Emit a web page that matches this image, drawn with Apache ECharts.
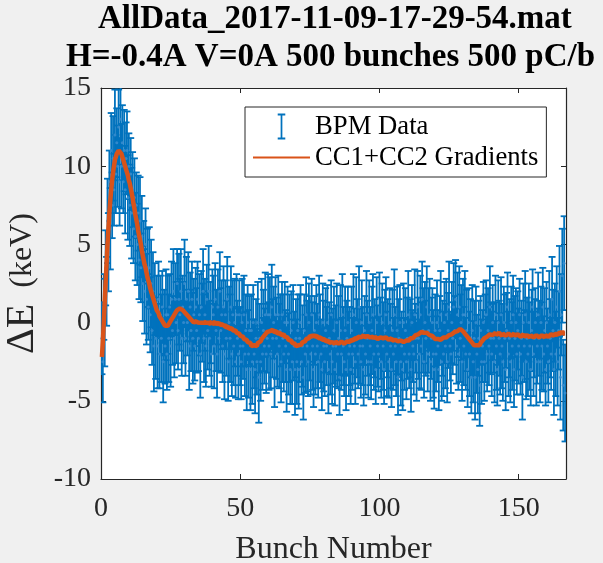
<!DOCTYPE html>
<html>
<head>
<meta charset="utf-8">
<script src="https://cdn.jsdelivr.net/npm/echarts@6/dist/echarts.min.js"></script>
<style>
html,body{margin:0;padding:0;background:#f0f0f0;}
#chart{width:603px;height:563px;}
</style>
</head>
<body>
<div id="chart"></div>
<script>
// ---- Data ----
const titleLines = ['AllData_2017-11-09-17-29-54.mat', 'H=-0.4A V=0A 500 bunches 500 pC/b'];
const xLabel = 'Bunch Number';
const yLabelDelta = '\u0394E';
const yLabelUnit = '(keV)';
const seriesNames = ['BPM Data', 'CC1+CC2 Gradients'];
const xTicks = [0, 50, 100, 150];
const yTicks = [-10, -5, 0, 5, 10, 15];
const samplesPerBunch = 3; // 500 samples spread over ~167 bunch units

// measured energy deviation (keV)
const bpmValues = [
  -1.0, -2.5, 1.0, 0.0, 3.5, 2.0, 6.5, 4.5, 9.0, 6.0,
  11.0, 7.5, 10.5, 8.5, 12.0, 9.5, 11.5, 10.0, 12.5, 9.0,
  13.0, 10.0, 11.5, 9.0, 11.0, 8.5, 10.5, 11.0, 8.0, 10.0,
  7.5, 9.5, 7.0, 8.5, 6.0, 8.0, 5.5, 7.5, 5.0, 7.0,
  4.0, 6.5, 3.5, 5.5, 2.5, 4.5, 2.0, 5.0, 1.5, 3.5,
  1.0, 3.5, 0.5, 2.5, -0.5, 2.0, -1.5, 1.5, -1.0, 1.0,
  -1.5, 1.5, -2.0, 0.5, -1.0, 1.0, -2.5, 0.0, -1.5, 0.5,
  -2.0, 0.5, -1.0, 1.0, -1.5, 1.5, -0.5, 2.0, -1.0, 1.5,
  0.0, 2.5, -0.5, 1.5, 0.5, 2.0, -1.0, 1.0, 0.0, 2.5,
  -1.0, 1.5, 0.0, 2.0, -1.5, 1.0, -0.5, 1.5, -1.0, 0.5,
  -1.5, 1.0, -0.5, 1.5, -1.0, 0.5, -2.0, 1.0, 0.0, 2.0,
  -1.0, 0.5, -1.5, 1.5, -0.5, 2.0, -1.0, 0.0, -2.0, 1.0,
  0.5, -1.5, 1.5, -0.5, -2.0, 1.0, -1.0, 2.0, -0.5, 0.5,
  -1.5, 1.0, -2.0, 0.5, -1.0, 1.5, -2.5, 0.0, -1.0, 1.0,
  -2.0, 0.5, -1.5, 0.0, -2.5, 0.5, -1.0, -2.0, 0.5, -1.5,
  -2.5, 0.0, -1.5, 0.5, -2.0, -0.5, -3.0, 0.0, -2.0, -0.5,
  -3.0, -0.5, -2.5, 0.0, -2.0, -3.0, -1.0, -2.5, 0.0, -3.5,
  -1.0, -2.5, 0.0, -2.0, -0.5, -1.5, 0.5, -2.0, -1.0, 0.5,
  -1.5, 0.5, -2.0, 1.0, -1.0, 0.0, -2.5, 0.5, -1.0, -2.0,
  0.5, -1.5, -0.5, -2.5, 0.5, -1.0, -2.0, 0.0, -1.5, -3.0,
  0.0, -2.0, -1.0, -3.0, -0.5, -2.5, 0.0, -1.5, -3.0, -1.0,
  -2.5, -0.5, -3.0, -1.0, 0.0, -2.5, -1.5, -3.5, -0.5, -2.0,
  0.5, -1.5, -2.5, 0.0, -1.0, -2.0, 0.5, -1.5, -3.0, -0.5,
  -2.0, 0.0, -1.5, -2.5, 0.5, -1.0, -2.0, -3.0, 0.0, -1.5,
  -2.5, -0.5, -1.5, 0.0, -3.0, -1.0, -2.0, 0.5, -2.5, -1.5,
  -0.5, -3.0, -1.5, 0.0, -2.0, -1.0, -3.5, -0.5, -2.0, 0.5,
  -1.5, -2.5, -0.5, -3.0, -1.0, 0.0, -2.0, -1.5, -3.0, -0.5,
  -2.0, 0.5, -1.5, -2.5, 0.0, -1.0, -2.0, 1.0, -1.5, -2.5,
  0.0, -1.5, -3.0, -0.5, -2.0, 0.5, -1.0, -2.5, 0.0, -1.5,
  -2.5, -0.5, 0.5, -2.0, -1.0, -3.0, 0.0, -1.5, -2.0, 0.5,
  -1.0, -2.5, 0.0, -1.5, -3.0, -0.5, 0.5, -2.0, -1.0, -2.5,
  0.0, -1.5, -3.0, -0.5, -2.0, 0.5, -1.5, -2.5, -0.5, -3.5,
  -1.0, 0.0, -2.5, -1.5, -3.0, 0.0, -2.0, -0.5, -2.5, -1.0,
  0.5, -2.0, -1.0, -3.0, 0.0, -1.5, -2.0, 0.5, -1.0, -2.5,
  1.0, -1.0, -2.0, 0.5, -1.5, 1.5, -0.5, -2.5, 0.0, -1.0,
  1.0, -2.0, -0.5, 0.5, -2.5, -1.0, 0.0, -2.0, -3.0, -0.5,
  -2.0, 0.0, -1.5, -3.0, -0.5, 0.5, -2.5, -1.0, -2.0, 0.0,
  -1.5, 0.5, -2.5, -0.5, 1.0, -1.5, -2.0, 0.0, -1.0, 1.0,
  -0.5, 1.5, -1.5, 0.5, -2.0, 1.0, -1.0, 0.0, -2.5, 0.5,
  -1.5, 0.5, -2.0, -0.5, -3.0, 0.0, -2.0, -1.0, -3.5, -0.5,
  -2.5, -1.0, -3.5, 0.0, -2.0, -3.0, -1.0, -4.0, -0.5, -2.5,
  -1.5, 0.0, -2.5, -1.0, 0.5, -2.0, -0.5, -1.5, 1.0, -1.0,
  -2.0, 0.0, -1.0, -2.5, 0.5, -1.5, -3.0, 0.0, -1.0, -2.0,
  0.5, -1.5, -2.5, 0.0, -1.0, -3.0, -0.5, 1.0, -2.0, -1.0,
  -2.5, 0.0, -1.5, 0.5, -3.0, -1.0, 0.0, -2.0, -0.5, -1.5,
  0.5, -2.0, -1.0, -3.5, 0.0, -1.5, 0.5, -2.5, -1.0, -2.0,
  0.0, -1.5, -3.0, -0.5, 1.0, -2.0, -1.0, 0.0, -2.5, -1.5,
  0.5, -1.0, -2.5, 0.0, -1.5, 1.0, -2.0, -0.5, -3.0, 0.0,
  -1.5, -2.5, 0.5, -1.0, -2.0, 1.5, -0.5, -3.0, 0.0, -2.0,
  1.0, -2.5, -0.5, 2.0, -3.5, 0.5, 3.0, -4.0, 3.8, -4.5
];
// error bar half-lengths (keV)
const bpmErrors = [
  2.3, 2.6, 2.1, 2.8, 2.4, 2.2, 2.7, 2.5, 2.0, 2.6,
  2.4, 2.1, 2.7, 2.3, 2.9, 2.5, 2.2, 2.6, 2.4, 2.8,
  2.2, 2.7, 2.4, 2.0, 2.6, 2.8, 2.3, 2.5, 2.7, 2.1,
  2.6, 2.3, 2.9, 2.4, 2.2, 2.5, 2.8, 2.1, 2.6, 2.4,
  2.5, 2.8, 2.2, 2.6, 2.4, 2.0, 2.7, 2.3, 2.9, 2.5,
  2.1, 2.6, 2.4, 2.8, 2.2, 2.5, 2.9, 2.3, 2.6, 2.0,
  2.7, 2.4, 2.2, 2.5, 2.8, 2.3, 2.6, 2.1, 2.4, 2.9,
  2.3, 2.5, 2.8, 2.1, 2.6, 2.4, 2.2, 2.7, 2.5, 2.3,
  2.6, 2.2, 2.5, 2.9, 2.3, 2.7, 2.4, 2.0, 2.6, 2.8,
  2.4, 2.7, 2.1, 2.5, 2.8, 2.2, 2.6, 2.4, 2.9, 2.3,
  2.2, 2.5, 2.7, 2.4, 2.1, 2.6, 2.8, 2.3, 2.5, 2.7,
  2.8, 2.3, 2.6, 2.2, 2.5, 2.9, 2.4, 2.6, 2.1, 2.4,
  2.5, 2.7, 2.3, 2.6, 2.8, 2.4, 2.1, 2.5, 2.7, 2.2,
  2.3, 2.6, 2.9, 2.2, 2.4, 2.7, 2.5, 2.3, 2.8, 2.6,
  2.7, 2.2, 2.5, 2.8, 2.3, 2.6, 2.4, 2.9, 2.2, 2.5,
  2.4, 2.8, 2.1, 2.5, 2.7, 2.3, 2.6, 2.4, 2.8, 2.2,
  2.6, 2.3, 2.7, 2.4, 2.2, 2.8, 2.5, 2.1, 2.6, 2.9,
  2.2, 2.5, 2.8, 2.3, 2.6, 2.4, 2.7, 2.5, 2.2, 2.6,
  2.8, 2.4, 2.2, 2.7, 2.5, 2.3, 2.9, 2.4, 2.6, 2.1,
  2.5, 2.7, 2.3, 2.6, 2.1, 2.8, 2.4, 2.6, 2.3, 2.7,
  2.3, 2.6, 2.8, 2.2, 2.5, 2.7, 2.4, 2.2, 2.9, 2.5,
  2.7, 2.3, 2.5, 2.8, 2.4, 2.1, 2.6, 2.7, 2.3, 2.5,
  2.4, 2.9, 2.2, 2.5, 2.7, 2.6, 2.3, 2.8, 2.4, 2.2,
  2.6, 2.4, 2.7, 2.3, 2.5, 2.8, 2.2, 2.6, 2.5, 2.9,
  2.2, 2.7, 2.5, 2.4, 2.8, 2.3, 2.6, 2.2, 2.7, 2.4,
  2.8, 2.3, 2.6, 2.5, 2.2, 2.7, 2.4, 2.9, 2.3, 2.6,
  2.5, 2.2, 2.8, 2.6, 2.4, 2.3, 2.7, 2.5, 2.2, 2.8,
  2.3, 2.6, 2.4, 2.7, 2.9, 2.5, 2.2, 2.6, 2.4, 2.3,
  2.7, 2.5, 2.3, 2.2, 2.6, 2.8, 2.4, 2.3, 2.7, 2.5,
  2.4, 2.8, 2.6, 2.3, 2.5, 2.2, 2.9, 2.6, 2.4, 2.7,
  2.6, 2.3, 2.5, 2.8, 2.2, 2.6, 2.4, 2.7, 2.5, 2.3,
  2.2, 2.7, 2.4, 2.6, 2.3, 2.9, 2.5, 2.2, 2.8, 2.4,
  2.5, 2.4, 2.8, 2.2, 2.6, 2.5, 2.3, 2.7, 2.4, 2.6,
  2.8, 2.2, 2.5, 2.7, 2.4, 2.3, 2.6, 2.9, 2.2, 2.5,
  2.3, 2.6, 2.2, 2.5, 2.8, 2.4, 2.7, 2.3, 2.6, 2.4,
  2.6, 2.4, 2.7, 2.3, 2.5, 2.6, 2.2, 2.8, 2.5, 2.3,
  2.4, 2.7, 2.3, 2.6, 2.2, 2.8, 2.5, 2.4, 2.7, 2.6,
  2.7, 2.3, 2.6, 2.4, 2.9, 2.2, 2.5, 2.6, 2.3, 2.8,
  2.2, 2.5, 2.4, 2.7, 2.3, 2.6, 2.8, 2.4, 2.5, 2.3,
  2.5, 2.8, 2.3, 2.6, 2.4, 2.2, 2.7, 2.5, 2.3, 2.9,
  2.6, 2.4, 2.7, 2.3, 2.5, 2.8, 2.4, 2.6, 2.2, 2.7,
  2.3, 2.6, 2.5, 2.8, 2.2, 2.4, 2.7, 2.5, 2.6, 2.3,
  2.7, 2.4, 2.2, 2.6, 2.5, 2.8, 2.3, 2.7, 2.4, 2.6,
  2.4, 2.7, 2.5, 2.3, 2.8, 2.6, 2.4, 2.2, 2.7, 2.5,
  2.6, 2.3, 2.8, 2.5, 2.4, 2.7, 2.2, 2.6, 2.5, 2.4,
  2.3, 2.6, 2.4, 2.7, 2.5, 2.3, 2.8, 2.4, 2.6, 2.7,
  2.5, 2.8, 2.3, 2.6, 2.4, 2.7, 2.5, 2.2, 2.8, 2.4,
  2.7, 2.4, 2.6, 2.3, 2.8, 2.5, 2.4, 2.7, 2.3, 2.6,
  2.4, 2.6, 2.8, 2.5, 2.3, 2.7, 2.6, 2.9, 2.5, 2.7,
  2.6, 2.8, 2.5, 2.9, 2.7, 2.6, 3.0, 2.9, 3.0, 3.1
];
// model (CC1+CC2 gradients) prediction (keV)
const modelValues = [
  -2.2, -1.2, 0.0, 1.3, 2.6, 3.8, 5.0, 6.0, 7.0, 7.8,
  8.5, 9.1, 9.6, 10.0, 10.4, 10.6, 10.8, 10.9, 11.0, 11.0,
  10.9, 10.8, 10.6, 10.4, 10.2, 10.0, 9.8, 9.6, 9.4, 9.1,
  8.9, 8.6, 8.3, 8.0, 7.6, 7.3, 6.9, 6.6, 6.3, 5.9,
  5.6, 5.3, 5.0, 4.6, 4.3, 4.0, 3.7, 3.5, 3.2, 2.9,
  2.7, 2.5, 2.2, 2.0, 1.8, 1.6, 1.4, 1.2, 1.0, 0.8,
  0.7, 0.6, 0.4, 0.3, 0.2, 0.1, 0.0, -0.1, -0.2, -0.2,
  -0.25, -0.2, -0.1, 0.0, 0.1, 0.2, 0.3, 0.4, 0.5, 0.6,
  0.7, 0.8, 0.8, 0.9, 0.9, 0.8, 0.9, 0.8, 0.8, 0.7,
  0.6, 0.6, 0.5, 0.4, 0.3, 0.3, 0.2, 0.1, 0.1, 0.0,
  0.1, -0.1, 0.1, -0.05, 0.1, -0.1, 0.05, -0.1, 0.1, -0.05,
  0.0, -0.15, 0.05, -0.1, 0.1, -0.1, 0.0, -0.15, 0.05, -0.1,
  0.0, -0.2, 0.05, -0.1, -0.05, -0.2, 0.0, -0.15, -0.05, -0.2,
  -0.1, -0.25, -0.1, -0.3, -0.2, -0.35, -0.25, -0.4, -0.3, -0.45,
  -0.35, -0.5, -0.45, -0.6, -0.5, -0.65, -0.6, -0.75, -0.7, -0.85,
  -0.8, -0.95, -0.9, -1.05, -1.0, -1.15, -1.1, -1.25, -1.2, -1.35,
  -1.3, -1.5, -1.4, -1.6, -1.45, -1.55, -1.4, -1.5, -1.3, -1.35,
  -1.2, -1.2, -1.05, -1.0, -0.9, -0.85, -0.75, -0.7, -0.6, -0.6,
  -0.5, -0.55, -0.45, -0.55, -0.45, -0.6, -0.5, -0.6, -0.55, -0.7,
  -0.6, -0.75, -0.65, -0.8, -0.7, -0.85, -0.75, -0.9, -0.85, -1.0,
  -0.95, -1.1, -1.05, -1.2, -1.15, -1.3, -1.25, -1.4, -1.35, -1.5,
  -1.4, -1.55, -1.45, -1.5, -1.35, -1.4, -1.25, -1.3, -1.15, -1.2,
  -1.05, -1.1, -0.95, -1.0, -0.85, -0.95, -0.8, -0.9, -0.75, -0.9,
  -0.8, -0.95, -0.85, -1.0, -0.9, -1.05, -0.95, -1.1, -1.0, -1.15,
  -1.05, -1.2, -1.1, -1.25, -1.15, -1.3, -1.2, -1.35, -1.25, -1.3,
  -1.2, -1.35, -1.2, -1.3, -1.2, -1.35, -1.25, -1.35, -1.2, -1.3,
  -1.2, -1.35, -1.25, -1.35, -1.2, -1.3, -1.15, -1.25, -1.1, -1.2,
  -1.05, -1.15, -1.0, -1.1, -0.95, -1.05, -0.9, -1.0, -0.85, -0.95,
  -0.85, -0.95, -0.8, -0.95, -0.85, -1.0, -0.85, -0.95, -0.8, -0.95,
  -0.85, -1.0, -0.9, -1.05, -0.9, -1.0, -0.9, -1.05, -0.95, -1.05,
  -0.95, -1.05, -0.9, -1.0, -0.9, -1.05, -0.95, -1.05, -1.0, -1.1,
  -1.0, -1.1, -1.0, -1.15, -1.05, -1.15, -1.1, -1.2, -1.1, -1.2,
  -1.15, -1.25, -1.15, -1.25, -1.15, -1.25, -1.2, -1.25, -1.15, -1.2,
  -1.1, -1.15, -1.0, -1.05, -0.95, -1.0, -0.9, -0.9, -0.8, -0.8,
  -0.7, -0.75, -0.65, -0.7, -0.6, -0.65, -0.55, -0.65, -0.6, -0.7,
  -0.65, -0.75, -0.7, -0.8, -0.8, -0.9, -0.85, -0.95, -0.95, -1.05,
  -1.0, -1.1, -1.05, -1.15, -1.05, -1.1, -1.0, -1.05, -0.95, -1.0,
  -0.9, -0.95, -0.85, -0.9, -0.8, -0.8, -0.7, -0.75, -0.65, -0.7,
  -0.6, -0.65, -0.55, -0.55, -0.45, -0.5, -0.4, -0.5, -0.45, -0.55,
  -0.55, -0.7, -0.7, -0.85, -0.85, -1.0, -1.0, -1.15, -1.15, -1.3,
  -1.3, -1.45, -1.4, -1.55, -1.45, -1.55, -1.4, -1.45, -1.3, -1.3,
  -1.15, -1.15, -1.0, -1.0, -0.9, -0.9, -0.8, -0.85, -0.75, -0.8,
  -0.7, -0.8, -0.7, -0.8, -0.65, -0.8, -0.7, -0.8, -0.65, -0.75,
  -0.7, -0.85, -0.7, -0.8, -0.7, -0.85, -0.75, -0.85, -0.7, -0.8,
  -0.7, -0.85, -0.75, -0.85, -0.7, -0.85, -0.75, -0.9, -0.75, -0.85,
  -0.75, -0.9, -0.8, -0.9, -0.75, -0.9, -0.8, -0.95, -0.8, -0.9,
  -0.8, -0.95, -0.8, -0.9, -0.8, -0.95, -0.85, -0.95, -0.8, -0.9,
  -0.8, -0.95, -0.85, -0.95, -0.8, -0.9, -0.8, -0.95, -0.8, -0.9,
  -0.75, -0.9, -0.8, -0.9, -0.75, -0.85, -0.7, -0.85, -0.7, -0.8,
  -0.65, -0.8, -0.65, -0.75, -0.6, -0.7, -0.55, -0.7, -0.6, -0.7
];

// ---- Build datasets ----
const xs = bpmValues.map((_, i) => (i + 1) / samplesPerBunch);
const errData = xs.map((x, i) => [x, bpmValues[i] - bpmErrors[i], bpmValues[i] + bpmErrors[i], bpmValues[i]]);
const ptData = xs.map((x, i) => [x, bpmValues[i]]);
const modelData = xs.map((x, i) => [x, modelValues[i]]);

const BLUE = '#0072BD', ORANGE = '#D95319', AX = '#262626';
const FONT = '"Liberation Serif", "Times New Roman", serif';

const chart = echarts.init(document.getElementById('chart'), null, {renderer: 'canvas'});

const xBase = {
  type: 'value', min: 0, max: 167, interval: 50,
  axisLine: {show: true, onZero: false, lineStyle: {color: AX, width: 1.2}},
  axisTick: {show: true, inside: true, length: 5, lineStyle: {color: AX}},
  splitLine: {show: false}
};
const yBase = {
  type: 'value', min: -10, max: 15, interval: 5,
  axisLine: {show: true, onZero: false, lineStyle: {color: AX, width: 1.2}},
  axisTick: {show: true, inside: true, length: 5, lineStyle: {color: AX}},
  splitLine: {show: false}
};
const titleStyle = {fontFamily: FONT, fontWeight: 'bold', fontSize: 33, color: '#000'};

chart.setOption({
  backgroundColor: '#f0f0f0',
  animation: false,
  title: [
    {text: titleLines[0], left: 98, top: 3, padding: 0, textStyle: titleStyle},
    {text: titleLines[1], left: 66, top: 41, padding: 0, textStyle: titleStyle}
  ],
  grid: {left: 101, right: 37, top: 88, bottom: 84, show: true, backgroundColor: '#ffffff', borderWidth: 0,
    containLabel: false, outerBoundsMode: 'none'},
  legend: {
    orient: 'vertical', left: 245, top: 107,
    backgroundColor: '#ffffff', borderColor: AX, borderWidth: 1,
    padding: [6, 8, 6, 8], itemGap: 4, itemWidth: 57, itemHeight: 26,
    textStyle: {fontFamily: FONT, fontSize: 26.7, color: '#000'},
    data: [
      {name: seriesNames[0], icon: 'path://M0,0 L7,0 L7,1.8 L4.3,1.8 L4.3,22.2 L7,22.2 L7,24 L0,24 L0,22.2 L2.7,22.2 L2.7,1.8 L0,1.8 Z', itemStyle: {color: BLUE}},
      {name: seriesNames[1], icon: 'path://M0,0 L57,0 L57,2.2 L0,2.2 Z', itemStyle: {color: ORANGE}}
    ],
    selectedMode: false
  },
  xAxis: [
    Object.assign({}, xBase, {
      position: 'bottom',
      name: xLabel, nameLocation: 'middle', nameGap: 55,
      nameTextStyle: {fontFamily: FONT, fontSize: 32, color: AX},
      axisLabel: {show: true, margin: 16, fontFamily: FONT, fontSize: 28, color: AX, showMaxLabel: false,
        formatter: v => (xTicks.indexOf(v) >= 0 ? String(v) : '')}
    }),
    Object.assign({}, xBase, {position: 'top', axisLabel: {show: false}})
  ],
  yAxis: [
    Object.assign({}, yBase, {
      position: 'left',
      name: '{d|' + yLabelDelta + '}  ' + yLabelUnit, nameLocation: 'middle', nameGap: 50, nameRotate: 90,
      nameTextStyle: {fontFamily: FONT, fontSize: 32, color: AX,
        rich: {d: {fontFamily: FONT, fontSize: 40, color: AX}}},
      axisLabel: {show: true, margin: 10, fontFamily: FONT, fontSize: 28, color: AX,
        formatter: v => (yTicks.indexOf(v) >= 0 ? String(v) : '')}
    }),
    Object.assign({}, yBase, {position: 'right', axisLabel: {show: false}})
  ],
  series: [
    {
      name: seriesNames[0], type: 'custom', clip: true,
      xAxisIndex: 0, yAxisIndex: 0,
      itemStyle: {color: BLUE},
      encode: {x: 0, y: [1, 2]},
      data: errData,
      renderItem: function (params, api) {
        const x = api.value(0);
        const lo = api.coord([x, api.value(1)]);
        const hi = api.coord([x, api.value(2)]);
        const h = 3.5;
        const st = {stroke: BLUE, lineWidth: 1.8};
        return {
          type: 'group',
          children: [
            {type: 'line', shape: {x1: hi[0], y1: hi[1], x2: lo[0], y2: lo[1]}, style: st},
            {type: 'line', shape: {x1: hi[0] - h, y1: hi[1], x2: hi[0] + h, y2: hi[1]}, style: st},
            {type: 'line', shape: {x1: lo[0] - h, y1: lo[1], x2: lo[0] + h, y2: lo[1]}, style: st}
          ]
        };
      },
      z: 2
    },
    {
      name: seriesNames[0], type: 'scatter', symbol: 'circle', symbolSize: 3,
      itemStyle: {color: '#3d8fd0'}, data: ptData, z: 3, clip: true
    },
    {
      name: seriesNames[1], type: 'line', symbol: 'none', showSymbol: false,
      lineStyle: {color: ORANGE, width: 4.5}, itemStyle: {color: ORANGE},
      data: modelData, z: 4, clip: true
    }
  ]
});
</script>
</body>
</html>
